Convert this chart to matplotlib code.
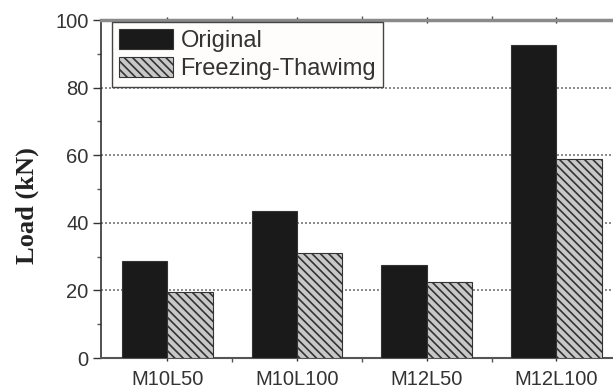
import numpy as np
import matplotlib
matplotlib.use("Agg")
import matplotlib.pyplot as plt
from matplotlib.ticker import MultipleLocator, FixedLocator

categories = ["M10L50", "M10L100", "M12L50", "M12L100"]
original = [28.7, 43.5, 27.4, 92.7]
freezing = [19.6, 31.1, 22.5, 59.0]
series_names = ["Original", "Freezing-Thawimg"]

plt.rcParams["font.family"] = ["Liberation Sans", "DejaVu Sans"]
plt.rcParams["hatch.linewidth"] = 1.2
plt.rcParams["hatch.color"] = "#2a2a2a"

fig = plt.figure(figsize=(6.13, 3.92), dpi=100)
# right edge of the axes runs past the figure, as in the cropped original
ax = fig.add_axes([101 / 613, 34 / 392, 519 / 613, 338 / 392])

x = np.arange(1, len(categories) + 1)
w = 0.35
ax.bar(x - w / 2, original, w, color="#1a1a1a", edgecolor="#333333",
       linewidth=0.8, label=series_names[0], zorder=3)
ax.bar(x + w / 2, freezing, w, color="#c8c8c8", edgecolor="#333333",
       linewidth=0.8, hatch="\\\\\\\\", label=series_names[1], zorder=3)

ax.set_xlim(0.49, 4.49)
ax.set_ylim(0, 100)
ax.set_xticks(x)
ax.set_xticklabels(categories, fontsize=14.5, color="#333333")
ax.xaxis.set_minor_locator(FixedLocator([1.5, 2.5, 3.5]))
ax.yaxis.set_major_locator(MultipleLocator(20))
ax.yaxis.set_minor_locator(MultipleLocator(10))
ax.tick_params(axis="y", which="major", length=6, width=1, labelsize=14.5,
               colors="#333333", pad=3)
ax.tick_params(axis="y", which="minor", length=3, width=1, colors="#555555")
ax.tick_params(axis="x", which="major", length=5, width=1, pad=6,
               colors="#333333", top=True, direction="inout")
ax.tick_params(axis="x", which="minor", length=3, width=1,
               colors="#555555", top=True)

for y in [20, 40, 60, 80]:
    ax.axhline(y, color="#777777", linestyle=(0, (1.2, 1.2)), linewidth=1.2, zorder=1)

ax.spines["top"].set_color("#8a8a8a")
ax.spines["top"].set_linewidth(2.5)
ax.spines["left"].set_color("#333333")
ax.spines["left"].set_linewidth(1.2)
ax.spines["bottom"].set_color("#555555")
ax.spines["bottom"].set_linewidth(1.5)
ax.spines["right"].set_visible(False)

ax.set_ylabel("Load (kN)", fontsize=19, fontweight="bold",
              family=["Liberation Serif", "DejaVu Serif"], color="#222222")
ax.yaxis.set_label_coords(-0.12, 0.45)

leg = ax.legend(loc="upper left", bbox_to_anchor=(11 / 519, 1 - 2 / 338),
                borderaxespad=0, fontsize=17, fancybox=False,
                edgecolor="#444444", facecolor="#fffdfb", framealpha=1,
                handlelength=2.3, handleheight=0.95, handletextpad=0.3,
                borderpad=0.3, labelspacing=0.2)
leg.get_frame().set_linewidth(1.0)
for t in leg.get_texts():
    t.set_color("#333333")

fig.savefig("out.png", dpi=100)
